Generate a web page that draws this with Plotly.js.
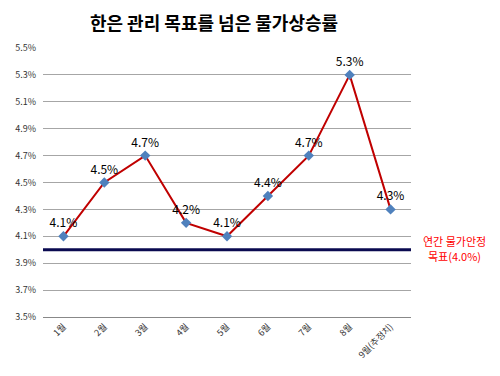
<!DOCTYPE html>
<html><head><meta charset="utf-8">
<script src="https://cdn.plot.ly/plotly-3.0.1.min.js"></script>
<style>html,body{margin:0;padding:0;background:#fff}#c{width:500px;height:376px}</style>
</head><body><div id="c"></div>
<script>
var months = ['1월','2월','3월','4월','5월','6월','7월','8월','9월(추정치)'];
var inflation = [4.1, 4.5, 4.7, 4.2, 4.1, 4.4, 4.7, 5.3, 4.3];
var labels = ['4.1%','4.5%','4.7%','4.2%','4.1%','4.4%','4.7%','5.3%','4.3%'];
var target = 4.0;
var yTicks = [3.5,3.7,3.9,4.1,4.3,4.5,4.7,4.9,5.1,5.3,5.5];
var yTickText = ['3.5%','3.7%','3.9%','4.1%','4.3%','4.5%','4.7%','4.9%','5.1%','5.3%','5.5%'];

var font = "'Noto Sans CJK KR', 'Noto Sans', sans-serif";
var trace = {
  x: months, y: inflation, type: 'scatter', mode: 'lines+markers+text',
  text: labels, textposition: 'top center',
  textfont: {family: font, size: 12, color: '#000'},
  line: {color: '#c00000', width: 2},
  marker: {symbol: 'diamond', size: 8, color: '#4f81bd'},
  cliponaxis: false, hoverinfo: 'none'
};
var layout = {
  width: 500, height: 376,
  margin: {l: 43, r: 89, t: 48, b: 59},
  paper_bgcolor: '#fff', plot_bgcolor: '#fff',
  showlegend: false,
  title: {text: '<b>한은 관리 목표를 넘은 물가상승률</b>', x: 0.428, xanchor: 'center', y: 0.938, yanchor: 'middle',
          font: {family: font, size: 18, color: '#000'}},
  xaxis: {type: 'category', range: [-0.5, 8.5], tickangle: -45, showgrid: false,
          showline: true, linecolor: '#888', linewidth: 1, ticks: '',
          tickfont: {family: font, size: 9, color: '#333'}},
  yaxis: {range: [3.5, 5.5], tickvals: yTicks, ticktext: yTickText,
          showgrid: true, gridcolor: '#a6a6a6', gridwidth: 1, zeroline: false, showline: false,
          ticks: '', ticklen: 0, ticklabelstandoff: 6,
          tickfont: {family: font, size: 9, color: '#333'}},
  shapes: [{type: 'line', xref: 'paper', x0: 0, x1: 1, yref: 'y', y0: target, y1: target,
            line: {color: '#0a0a50', width: 3}}],
  annotations: [
    {xref: 'paper', x: 1.119, yref: 'y', y: 4.068, xanchor: 'center', yanchor: 'middle',
     text: '연간 물가안정', showarrow: false, font: {family: font, size: 11, color: '#ff0000'}},
    {xref: 'paper', x: 1.119, yref: 'y', y: 3.955, xanchor: 'center', yanchor: 'middle',
     text: '목표(4.0%)', showarrow: false, font: {family: font, size: 11, color: '#ff0000'}}
  ]
};
Plotly.newPlot('c', [trace], layout, {displayModeBar: false, staticPlot: true});
</script></body></html>
